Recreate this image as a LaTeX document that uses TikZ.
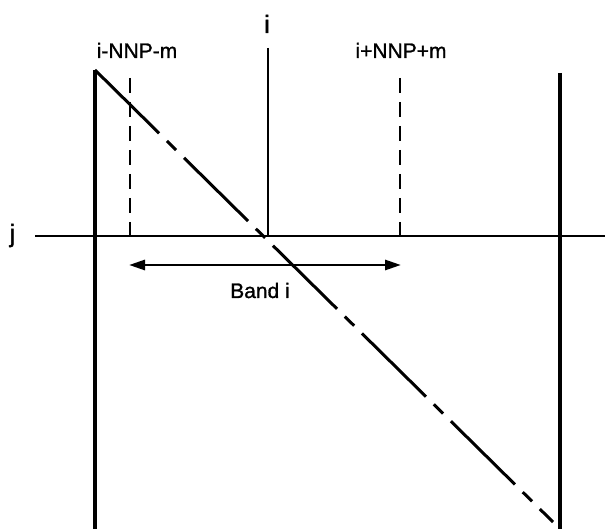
\documentclass[tikz,border=0pt]{standalone}
\usepackage{fontspec}
\setmainfont{Liberation Sans}
\newfontfamily\plotfont{Liberation Sans}[FakeBold=1.2]
\usetikzlibrary{arrows.meta}
\begin{document}
\begin{tikzpicture}[x=1pt,y=-1pt,
  solidline/.style={line width=3.5pt},
  midline/.style={line width=2.8pt},
  bandline/.style={line width=2.6pt, dash pattern=on 15pt off 9pt},
  diagline/.style={line width=3pt, dash pattern=on 90pt off 11pt on 13pt off 11pt},
  bandarrow/.style={line width=2.8pt, {Triangle[length=16pt,width=10pt]}-{Triangle[length=16pt,width=10pt]}},
  lbl/.style={font=\plotfont\fontsize{21}{25}\selectfont, anchor=base, inner sep=0pt},
  biglbl/.style={font=\plotfont\fontsize{25}{30}\selectfont, anchor=base, inner sep=0pt}]
\useasboundingbox (0,0) rectangle (605,529);
% points
\coordinate (Ltop) at (95,70);  \coordinate (Lbot) at (95,529);
\coordinate (Rtop) at (560,73); \coordinate (Rbot) at (560,529);
\coordinate (Hl) at (35,236);   \coordinate (Hr) at (605,236);
\coordinate (Ctop) at (268,48); \coordinate (Cbot) at (268,236);
\coordinate (D1top) at (130,78); \coordinate (D1bot) at (130,236);
\coordinate (D2top) at (400,78); \coordinate (D2bot) at (400,236);
\coordinate (Dend) at (553,522);
\coordinate (Al) at (129,265);  \coordinate (Ar) at (401,265);
% lines
\draw[solidline] (Ltop) -- (Lbot);
\draw[solidline] (Rtop) -- (Rbot);
\draw[midline] (Hl) -- (Hr);
\draw[midline] (Ctop) -- (Cbot);
\draw[bandline] (D1top) -- (D1bot);
\draw[bandline] (D2top) -- (D2bot);
\draw[diagline] (Ltop) -- (Dend);
\draw[bandarrow] (Al) -- (Ar);
% labels
\node[lbl] (lminus) at (137,58) {i-NNP-m};
\node[lbl] (lplus) at (401,58) {i+NNP+m};
\node[lbl] (lband) at (260,298) {Band i};
\node[biglbl] (li) at (267,33) {i};
\node[biglbl] (lj) at (12.5,242) {j};
\end{tikzpicture}
\end{document}
